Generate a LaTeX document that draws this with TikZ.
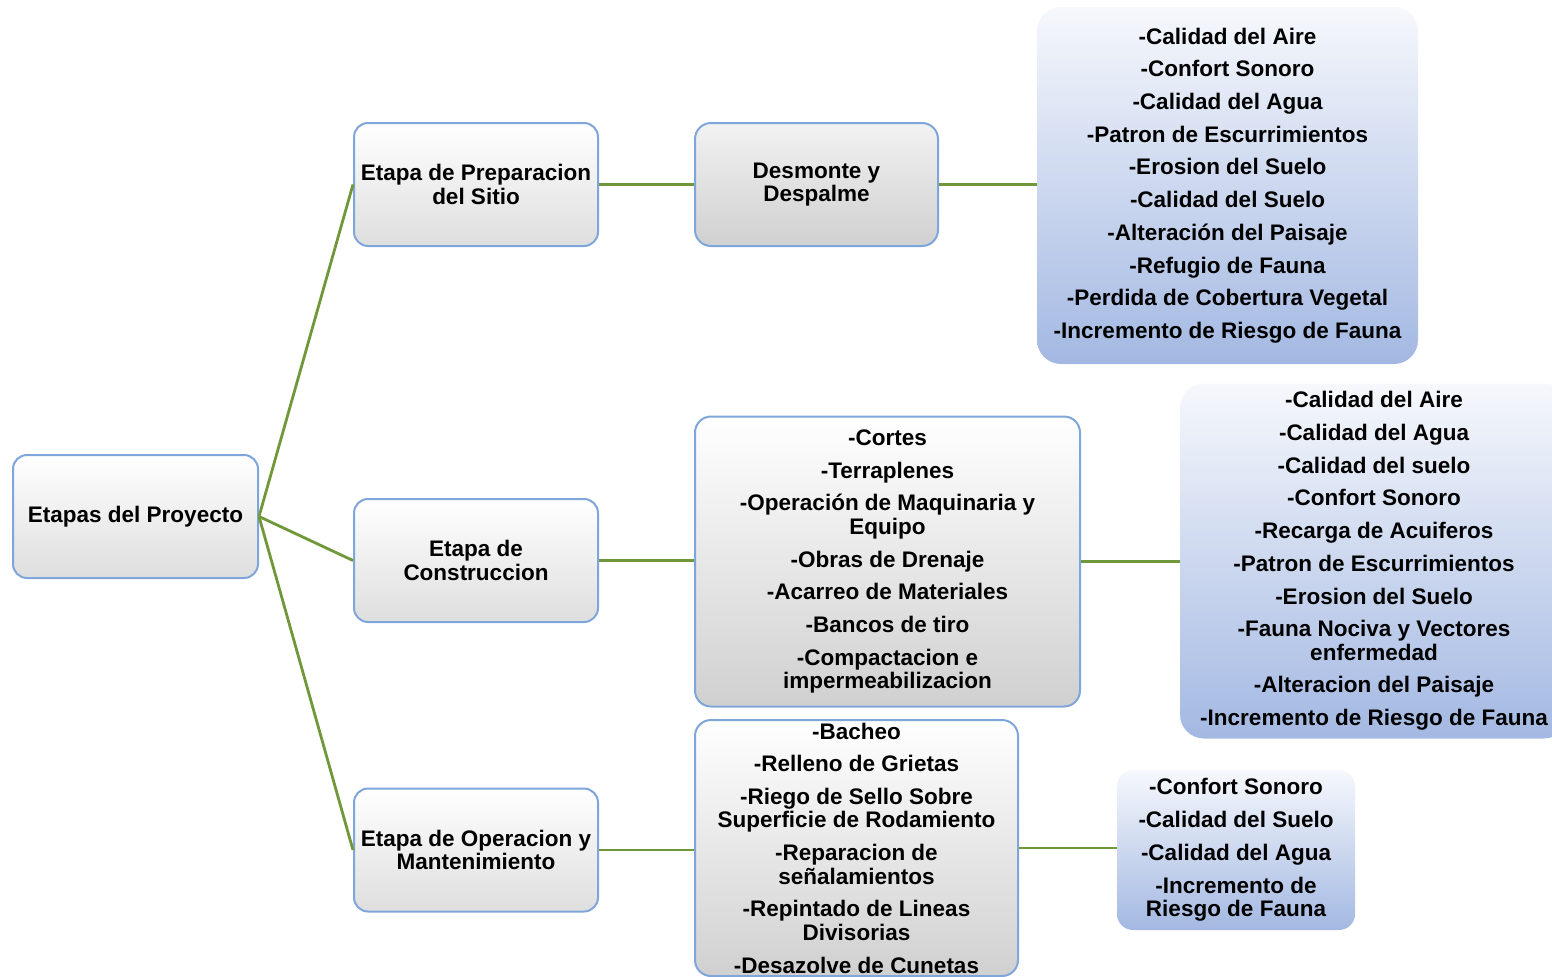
\documentclass[tikz,border=0pt]{standalone}
\usepackage{fontspec}
\setmainfont{Liberation Sans}
\definecolor{bordercol}{RGB}{126,166,218}
\definecolor{linecol}{RGB}{112,152,58}
\definecolor{bluebot}{RGB}{163,184,226}
\definecolor{bluetop}{RGB}{246,248,252}
\definecolor{graybot}{RGB}{222,222,222}
\definecolor{darkgraytop}{RGB}{242,242,242}
\definecolor{darkgraybot}{RGB}{208,208,208}
\newcommand{\itm}{\\[4.6pt]}
\begin{document}
\begin{tikzpicture}[x=0.5pt,y=-0.5pt,
  every node/.style={font=\fontsize{11.25}{11.75}\selectfont\bfseries, align=center, inner sep=0pt},
  wbox/.style={draw=bordercol, line width=1pt, rounded corners=7pt, top color=white, middle color=white, bottom color=graybot, minimum width=122pt, minimum height=61.5pt},
  gbox/.style={draw=bordercol, line width=1pt, rounded corners=8pt, top color=darkgraytop, bottom color=darkgraybot},
  bbox/.style={draw=none, rounded corners=12pt, top color=bluetop, bottom color=bluebot},
  conn/.style={draw=linecol, line width=1.4pt}
]
\useasboundingbox (0,0) rectangle (1552,976);
\clip (0,0) rectangle (1552,976);

% level 0 and 1
\node[wbox, minimum width=122.5pt] (root) at (135.5,516.5) {Etapas del Proyecto};
\node[wbox] (prep) at (476,184.5) {Etapa de Preparacion\\del Sitio};
\node[wbox] (cons) at (476,560.5) {Etapa de\\Construccion};
\node[wbox] (oper) at (476,850) {Etapa de Operacion y\\Mantenimiento};

% level 2
\node[gbox, minimum width=121.5pt, minimum height=61.5pt] (desm) at (816.5,184.5) {Desmonte y\\Despalme};
\node[gbox, top color=white, minimum width=192.5pt, minimum height=145pt] (cact) at (887.5,561.5)
  {-Cortes\itm -Terraplenes\itm -Operación de Maquinaria y\\Equipo\itm -Obras de Drenaje\itm
   -Acarreo de Materiales\itm -Bancos de tiro\itm -Compactacion e\\impermeabilizacion};
\node[gbox, top color=white, minimum width=161.5pt, minimum height=128pt] (oact) at (856.5,848)
  {-Bacheo\itm -Relleno de Grietas\itm -Riego de Sello Sobre\\Superficie de Rodamiento\itm
   -Reparacion de\\señalamientos\itm -Repintado de Lineas\\Divisorias\itm -Desazolve de Cunetas};

% level 3
\node[bbox, minimum width=190.5pt, minimum height=178.5pt] (imp1) at (1227.5,185.5)
  {-Calidad del Aire\itm -Confort Sonoro\itm -Calidad del Agua\itm -Patron de Escurrimientos\itm
   -Erosion del Suelo\itm -Calidad del Suelo\itm -Alteración del Paisaje\itm -Refugio de Fauna\itm
   -Perdida de Cobertura Vegetal\itm -Incremento de Riesgo de Fauna};
\node[bbox, minimum width=194pt, minimum height=177.5pt] (imp2) at (1374,561)
  {-Calidad del Aire\itm -Calidad del Agua\itm -Calidad del suelo\itm -Confort Sonoro\itm
   -Recarga de Acuiferos\itm -Patron de Escurrimientos\itm -Erosion del Suelo\itm
   -Fauna Nociva y Vectores\\enfermedad\itm -Alteracion del Paisaje\itm -Incremento de Riesgo de Fauna};
\node[bbox, rounded corners=8pt, minimum width=119pt, minimum height=80pt] (imp3) at (1236,850)
  {-Confort Sonoro\itm -Calidad del Suelo\itm -Calidad del Agua\itm -Incremento de\\Riesgo de Fauna};

% connectors
\draw[conn] (root.east) -- (prep.west);
\draw[conn] (root.east) -- (cons.west);
\draw[conn] (root.east) -- (oper.west);
\draw[conn] (prep.east) -- (desm.west);
\draw[conn] (cons.east) -- (cact.west |- cons.east);
\draw[conn] (oper.east) -- (oact.west |- oper.east);
\draw[conn] (desm.east) -- (imp1.west |- desm.east);
\draw[conn] (cact.east) -- (imp2.west |- cact.east);
\draw[conn] (oact.east) -- (imp3.west |- oact.east);
\end{tikzpicture}
\end{document}
